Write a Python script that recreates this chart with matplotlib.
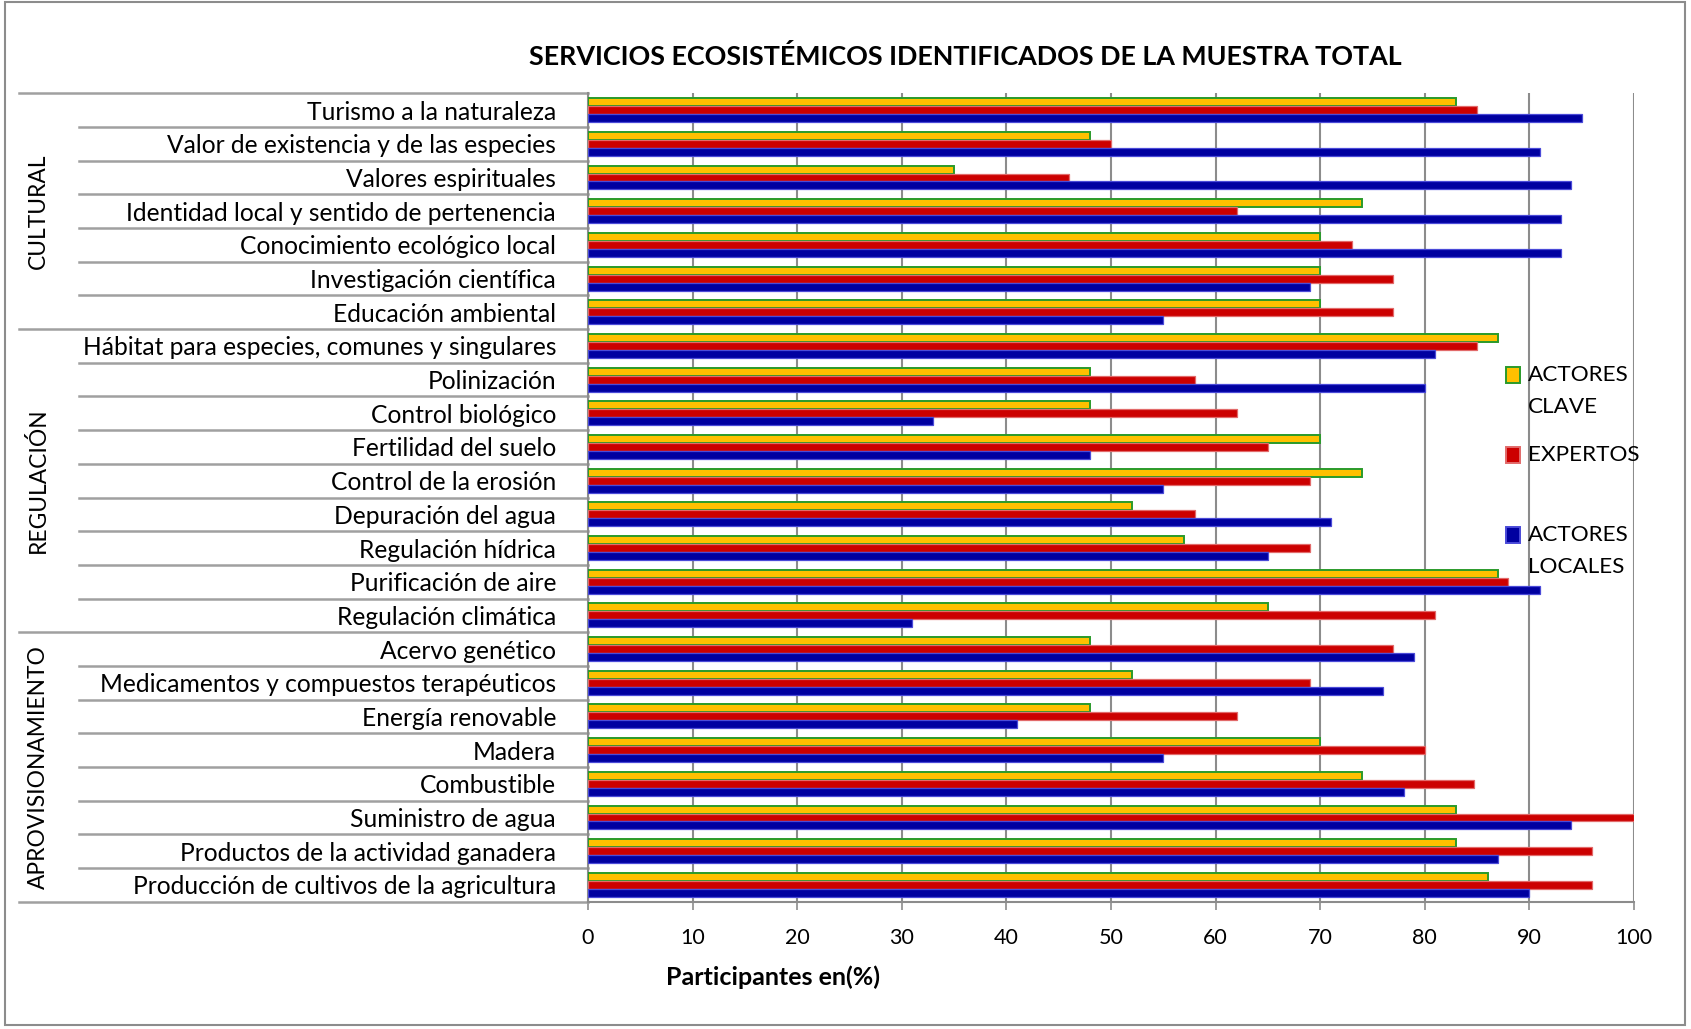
import matplotlib
matplotlib.use('Agg')
import matplotlib.pyplot as plt
import numpy as np
from matplotlib.lines import Line2D
from matplotlib.patches import Rectangle
from matplotlib import transforms

# ---------------- data ----------------
categories = [
    'Turismo a la naturaleza',
    'Valor de existencia y de las especies',
    'Valores espirituales',
    'Identidad local y sentido de pertenencia',
    'Conocimiento ecológico local',
    'Investigación científica',
    'Educación ambiental',
    'Hábitat para especies, comunes y singulares',
    'Polinización',
    'Control biológico',
    'Fertilidad del suelo',
    'Control de la erosión',
    'Depuración del agua',
    'Regulación hídrica',
    'Purificación de aire',
    'Regulación climática',
    'Acervo genético',
    'Medicamentos y compuestos terapéuticos',
    'Energía renovable',
    'Madera',
    'Combustible',
    'Suministro de agua',
    'Productos de la actividad ganadera',
    'Producción de cultivos de la agricultura',
]
groups = ['CULTURAL', 'REGULACIÓN', 'APROVISIONAMIENTO']
group_sizes = [7, 9, 8]

actores_clave = [83, 48, 35, 74, 70, 70, 70,
                 87, 48, 48, 70, 74, 52, 57, 87, 65,
                 48, 52, 48, 70, 74, 83, 83, 86]
expertos = [85, 50, 46, 62, 73, 77, 77,
            85, 58, 62, 65, 69, 58, 69, 88, 81,
            77, 69, 62, 80, 84.7, 100, 96, 96]
actores_locales = [95, 91, 94, 93, 93, 69, 55,
                   81, 80, 33, 48, 55, 71, 65, 91, 31,
                   79, 76, 41, 55, 78, 94, 87, 90]

series_names = ['ACTORES\nCLAVE', 'EXPERTOS', 'ACTORES\nLOCALES']
xticks = list(range(0, 101, 10))

title = 'SERVICIOS ECOSISTÉMICOS IDENTIFICADOS DE LA MUESTRA TOTAL'
xlabel = 'Participantes en(%)'

# ---------------- styling ----------------
plt.rcParams['font.family'] = ['Lato', 'DejaVu Sans']
W, H = 1691, 1029
fig = plt.figure(figsize=(W / 100, H / 100), dpi=100)
fig.patch.set_facecolor('white')

def fx(px):
    return px / W

def fy(py):
    return 1 - py / H

ax_left, ax_right, ax_top, ax_bot = 588, 1634, 93.3, 901.7
ax = fig.add_axes([fx(ax_left), fy(ax_bot), fx(ax_right - ax_left), (ax_bot - ax_top) / H])

fills = ['#FFC000', '#CC0000', '#0000A0']
edges = ['#2A9A2A', '#E26A6A', '#4A4AD8']
edge_w = [1.4, 0.9, 0.9]
series = [actores_clave, expertos, actores_locales]

n = len(categories)
y = np.arange(n)
h = 0.237
for i, vals in enumerate(series):
    ax.barh(y + (i - 1) * h, vals, height=h, color=fills[i],
            edgecolor=edges[i], linewidth=edge_w[i], zorder=3)

ax.set_xlim(0, 100)
ax.set_ylim(n - 0.5, -0.5)
ax.set_xticks(xticks)
ax.set_xticklabels([str(t) for t in xticks], fontsize=15.5)
ax.set_yticks(y)
ax.set_yticklabels(categories, fontsize=17.7)
ax.tick_params(axis='y', length=0, pad=23)
ax.tick_params(axis='x', length=6, width=1.2, color='#8C8C8C', pad=13)
ax.xaxis.grid(True, color='#8C8C8C', linewidth=1.5, zorder=0)
ax.set_axisbelow(True)
for s in ['top', 'right']:
    ax.spines[s].set_visible(False)
for s in ['left', 'bottom']:
    ax.spines[s].set_color('#8C8C8C')
    ax.spines[s].set_linewidth(1.5)

# separator lines in the label area
trans = transforms.blended_transform_factory(fig.transFigure, ax.transData)
group_bounds = set(np.cumsum([0] + group_sizes))
for k in range(n + 1):
    x0 = 19 if k in group_bounds else 79
    ax.add_line(Line2D([fx(x0), fx(ax_left)], [k - 0.5, k - 0.5], transform=trans,
                       color='#A0A0A0', linewidth=1.8, clip_on=False, zorder=1))

# group labels
start = 0
for g, sz in zip(groups, group_sizes):
    center = start + (sz - 1) / 2
    ax.text(fx(38), center, g, transform=trans, rotation=90, ha='center', va='center',
            fontsize=16.4)
    start += sz

# x label and title
ax.text((773 - ax_left) / (ax_right - ax_left), -(977 - ax_bot) / (ax_bot - ax_top), xlabel,
        transform=ax.transAxes, ha='center', va='center', fontsize=18, fontweight='bold')
fig.text(fx(965), fy(56.7), title, ha='center', va='center', fontsize=19.4, fontweight='bold')

# legend (manual)
leg_y = [375, 455, 535]
for i, name in enumerate(series_names):
    fig.patches.append(Rectangle((fx(1506), fy(leg_y[i] + 8)), fx(14), 16 / H,
                                 transform=fig.transFigure, facecolor=fills[i],
                                 edgecolor=edges[i], linewidth=1.4))
    for j, ln in enumerate(name.split('\n')):
        fig.text(fx(1528), fy(leg_y[i] + j * 32), ln, ha='left', va='center', fontsize=16.2)

# outer border
fig.patches.append(Rectangle((fx(5), fy(1025)), fx(1680), 1023 / H, transform=fig.transFigure,
                             facecolor='none', edgecolor='#8C8C8C', linewidth=1.5))

fig.savefig('out.png', dpi=100, facecolor='white')
